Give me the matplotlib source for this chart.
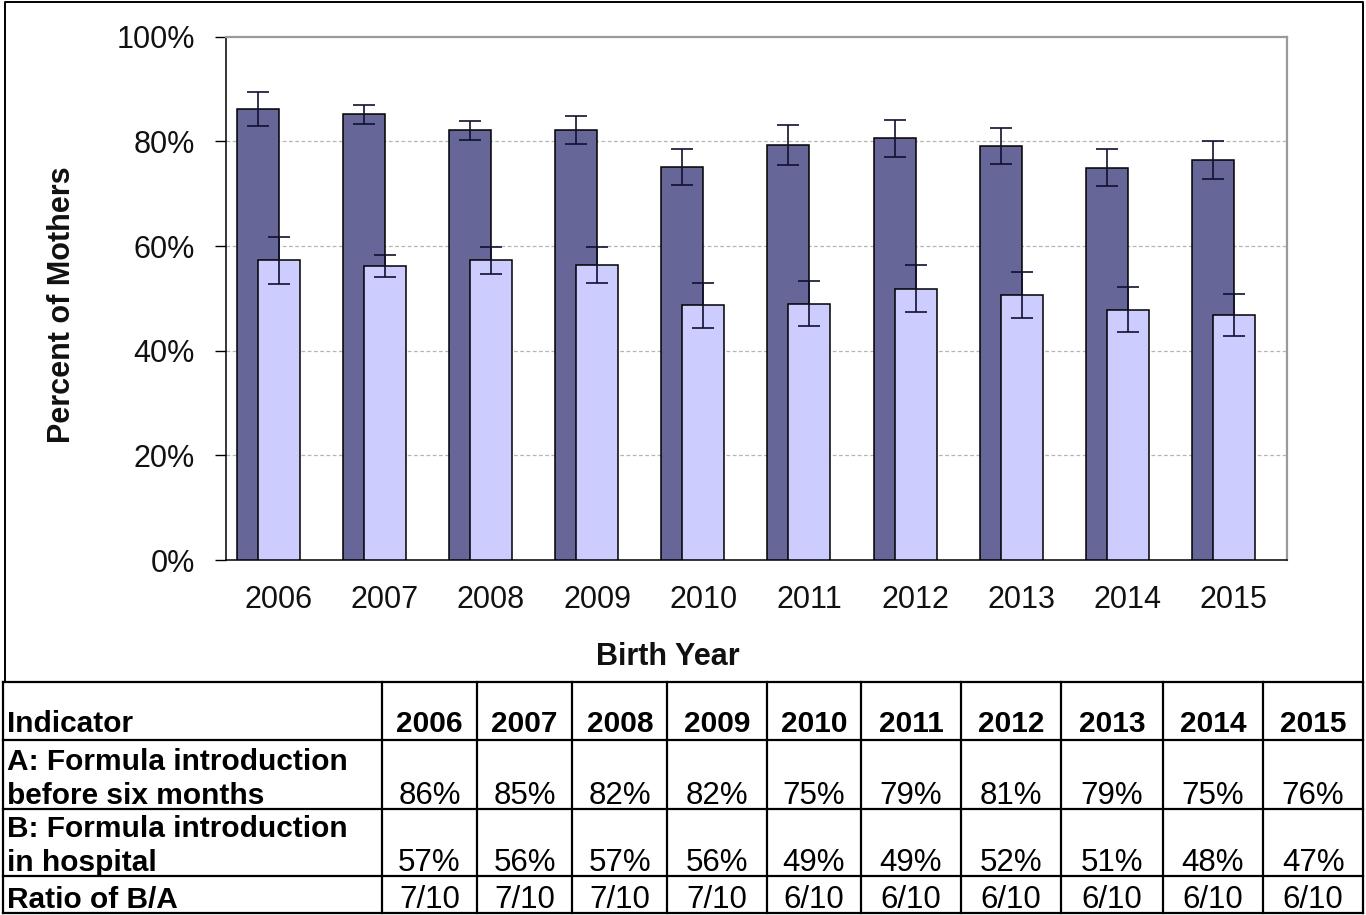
import matplotlib
matplotlib.use("Agg")
import matplotlib.pyplot as plt
import numpy as np

plt.rcParams['font.family'] = ['Liberation Sans', 'DejaVu Sans']

# Dados
anos = ['2006', '2007', '2008', '2009', '2010', '2011', '2012', '2013', '2014', '2015']
pct_a = [86.2, 85.2, 82.1, 82.2, 75.1, 79.3, 80.6, 79.1, 75.0, 76.5]
err_a = [3.2, 1.8, 1.8, 2.7, 3.4, 3.8, 3.5, 3.5, 3.5, 3.6]
pct_b = [57.3, 56.1, 57.3, 56.4, 48.7, 49.0, 51.8, 50.6, 47.8, 46.8]
err_b = [4.5, 2.1, 2.6, 3.5, 4.3, 4.3, 4.5, 4.4, 4.3, 4.0]

# Tabela
tab_a = ['86%', '85%', '82%', '82%', '75%', '79%', '81%', '79%', '75%', '76%']
tab_b = ['57%', '56%', '57%', '56%', '49%', '49%', '52%', '51%', '48%', '47%']
razao = ['7/10', '7/10', '7/10', '7/10', '6/10', '6/10', '6/10', '6/10', '6/10', '6/10']
rotulos = ['A: Formula introduction\nbefore six months',
           'B: Formula introduction\nin hospital',
           'Ratio of B/A']
yticks = [0, 20, 40, 60, 80, 100]

W, H = 1366, 915
fig = plt.figure(figsize=(W / 100, H / 100), dpi=100)

# --- grafico de barras ---
x0, x1, y0, y1 = 225.7, 1287, 36.7, 560
ax = fig.add_axes([x0 / W, 1 - y1 / H, (x1 - x0) / W, (y1 - y0) / H])
x = np.arange(len(anos))
w = 0.396
ekw = dict(ecolor='#101030', elinewidth=1.2, capthick=1.2)
ax.bar(x - w / 2, pct_a, w, color='#666699', edgecolor='black', linewidth=1.1,
       yerr=err_a, capsize=8, error_kw=ekw, zorder=3)
ax.bar(x, pct_b, w, color='#ccccff', edgecolor='black', linewidth=1.1,
       yerr=err_b, capsize=8, error_kw=ekw, zorder=4)
ax.set_xlim(-0.5, len(anos) - 0.5)
ax.set_ylim(0, 100)
ax.set_yticks(yticks)
ax.set_yticklabels([f'{v}%' for v in yticks])
ax.set_xticks(x)
ax.set_xticklabels(anos)
for v in yticks[1:-1]:
    ax.axhline(v, color='#b5b5b5', lw=0.9, ls=(0, (3, 2)), zorder=1)
for s in ['left', 'bottom']:
    ax.spines[s].set_color('black')
    ax.spines[s].set_linewidth(1.1)
for s in ['top', 'right']:
    ax.spines[s].set_color('#9a9a9a')
    ax.spines[s].set_linewidth(1.6)
ax.tick_params(axis='y', length=7.7, width=1, pad=14.4, labelsize=22, labelcolor='#111111')
ax.tick_params(axis='x', length=0, pad=18, labelsize=22, labelcolor='#111111')

fig.text(668 / W, 1 - 665 / H, 'Birth Year', ha='center', va='baseline',
         fontsize=22, fontweight='bold', color='#111111')
fig.text(62 / W, 1 - 305 / H, 'Percent of Mothers', ha='center', va='center',
         rotation=90, fontsize=22, fontweight='bold', color='#111111')

# --- moldura e tabela (coordenadas em pixels) ---
ov = fig.add_axes([0, 0, 1, 1])
ov.set_xlim(0, W)
ov.set_ylim(H, 0)
ov.axis('off')
ov.patch.set_alpha(0)

ov.plot([5, 5, 1363, 1363], [682, 1.7, 1.7, 682], color='black', lw=1.4)

cols = [3.3, 382.3, 476.7, 572.3, 667.3, 766.7, 861, 961, 1061.3, 1163, 1263, 1363.3]
rows = [682, 740, 809, 876, 913]
for yy in rows:
    ov.plot([cols[0], cols[-1]], [yy, yy], color='black', lw=1.6)
for xx in cols:
    ov.plot([xx, xx], [rows[0], rows[-1]], color='black', lw=1.6)

fs = 21.5
lh = 34
ov.text(cols[0] + 4, rows[1] - 8, 'Indicator', ha='left', va='baseline',
        fontsize=fs, fontweight='bold')
for i, ano in enumerate(anos):
    cx = (cols[i + 1] + cols[i + 2]) / 2
    ov.text(cx, rows[1] - 8, ano, ha='center', va='baseline', fontsize=fs, fontweight='bold')

valores = [tab_a, tab_b, razao]
for r, (rot, vals) in enumerate(zip(rotulos, valores)):
    base = rows[r + 2] - 5
    linhas = rot.split('\n')
    for k, ln in enumerate(linhas):
        yy = base - lh * (len(linhas) - 1 - k)
        ov.text(cols[0] + 4, yy, ln, ha='left', va='baseline', fontsize=fs, fontweight='bold')
    for i, v in enumerate(vals):
        cx = (cols[i + 1] + cols[i + 2]) / 2
        ov.text(cx, base, v, ha='center', va='baseline', fontsize=22.5)

fig.savefig('out.png', dpi=100)
